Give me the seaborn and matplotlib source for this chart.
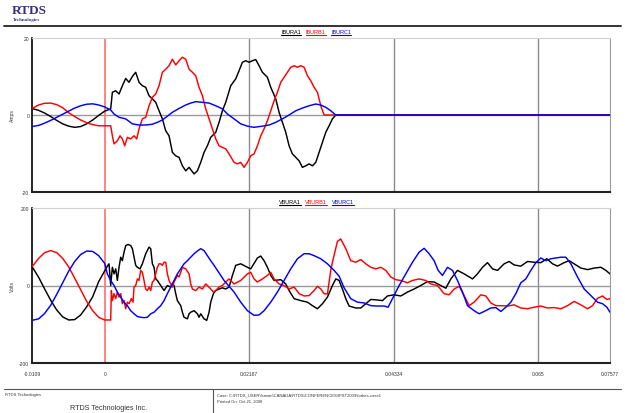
import numpy as np
import pandas as pd
import matplotlib
matplotlib.use("Agg")
import matplotlib.pyplot as plt
import seaborn as sns
from matplotlib.lines import Line2D

sns.set_style("white")
plt.rcParams['font.family'] = ['Liberation Sans', 'DejaVu Sans']

# ---------------------------------------------------------------- currents (A)
# time stamps in milliseconds
ia_t = [-10.9, -9.9, -9.0, -8.1, -7.2, -6.3, -5.4, -4.5, -3.6, -2.7, -1.8, -0.9, 0.0, 0.9,
        1.15, 1.65, 2.15, 2.65, 3.15, 3.65, 4.15, 4.65, 5.15, 5.65, 6.15, 6.65, 7.15, 7.65,
        8.15, 8.65, 9.15, 9.65, 10.15, 10.65, 11.15, 11.65, 12.15, 12.65, 13.4, 13.9, 14.4,
        14.9, 15.4, 15.9, 16.65, 17.15, 17.65, 18.15, 18.9, 19.65, 20.15, 20.65, 21.15, 21.65,
        22.15, 22.65, 23.15, 23.65, 24.4, 24.9, 25.65, 26.15, 26.65, 27.15, 27.65, 28.15,
        28.65, 29.15, 29.65, 30.15, 30.65, 31.15, 31.65, 32.15, 32.65, 33.15, 33.65, 34.15,
        34.65, 75.77]
ia = [1.7, 1.2, 0.5, -0.4, -1.4, -2.3, -2.9, -3.2, -3.0, -2.3, -1.3, -0.1, 1.0, 1.6,
      5.9, 6.3, 5.45, 7.6, 9.5, 8.5, 10.0, 11.1, 8.5, 7.6, 7.2, 5.0, 4.2, 3.3,
      1.1, -1.0, -4.1, -5.4, -9.7, -10.6, -11.0, -13.2, -14.5, -13.6, -15.3, -14.5, -12.3,
      -9.7, -8.0, -5.8, -4.5, -1.9, 1.1, 3.3, 7.6, 9.4, 11.5, 13.7, 14.1, 13.7,
      14.1, 14.4, 12.8, 11.1, 9.8, 7.2, 4.2, 0.7, -1.9, -4.5, -8.0, -10.1,
      -11.0, -11.9, -13.6, -13.2, -12.7, -13.2, -12.3, -9.7, -7.1, -4.5, -2.8, -1.0,
      0.0, 0.0]

ib_t = [-10.9, -9.9, -9.0, -8.1, -7.2, -6.3, -5.4, -4.5, -3.6, -2.7, -1.8, -0.9, 0.0, 0.9,
        1.15, 1.4, 1.9, 2.3, 2.65, 3.0, 3.4, 3.9, 4.4, 4.8, 5.15, 5.65, 6.15, 6.65, 7.15,
        7.65, 8.15, 8.65, 9.15, 9.65, 10.15, 10.65, 11.15, 11.65, 12.15, 12.65, 13.15,
        13.65, 14.15, 14.65, 15.15, 15.65, 16.15, 16.65, 17.15, 17.65, 18.15, 18.65, 19.4,
        19.9, 20.4, 20.9, 21.4, 21.9, 22.4, 22.9, 23.4, 23.9, 24.4, 24.9, 25.4, 25.9, 26.4,
        26.9, 27.4, 27.9, 28.4, 28.9, 29.4, 29.9, 30.4, 30.9, 31.4, 31.9, 32.4, 32.9, 75.77]
ib = [1.7, 2.6, 3.05, 3.1, 2.7, 1.9, 0.6, -0.4, -1.3, -2.0, -2.5, -2.8, -2.8, -2.8,
      -5.4, -7.5, -6.7, -5.4, -6.2, -8.0, -5.8, -6.2, -5.4, -6.2, -3.6, -1.0, -0.6, 2.4, 4.6,
      5.45, 7.6, 11.1, 11.9, 12.8, 14.5, 13.0, 14.1, 15.0, 14.5, 11.9, 11.1,
      10.2, 7.2, 5.0, 1.6, -1.0, -3.6, -6.2, -8.0, -8.4, -8.8, -10.1, -12.3,
      -12.7, -12.3, -13.6, -12.3, -10.6, -10.1, -8.0, -5.4, -3.6, -1.5, 1.1, 3.7, 5.9, 8.5,
      9.8, 11.1, 12.4, 12.8, 12.4, 12.8, 12.4, 10.2, 8.9, 7.2, 5.9, 2.4, 0.0, 0.0]

ic_t = [-10.9, -9.9, -9.0, -8.1, -7.2, -6.3, -5.4, -4.5, -3.6, -2.7, -1.8, -0.9, 0.0, 0.9,
        1.4, 2.15, 3.15, 4.15, 5.15, 6.15, 7.15, 7.9, 8.65, 9.4, 10.15, 11.15, 12.15, 12.9,
        13.65, 14.65, 15.65, 16.65, 17.65, 18.4, 19.4, 20.4, 21.4, 22.4, 23.65, 24.65, 25.65,
        26.65, 27.65, 28.65, 29.65, 30.65, 31.65, 32.4, 33.15, 33.9, 34.65, 75.77]
ic = [-3.0, -2.7, -2.1, -1.4, -0.6, 0.2, 1.0, 1.8, 2.4, 2.8, 2.9, 2.6, 2.1, 1.3,
      0.26, -0.6, -1.0, -2.3, -2.6, -2.6, -2.4, -1.9, -1.3, -0.3, 0.7, 1.7, 2.6, 3.1,
      3.45, 3.3, 3.1, 2.4, 1.6, 0.26, -1.0, -2.3, -2.9, -3.2, -2.9, -2.6, -1.9,
      -1.0, 0.0, 1.1, 1.8, 2.4, 2.85, 2.6, 2.0, 1.1, 0.0, 0.0]

# ---------------------------------------------------------------- voltages (V)
va_t = [-10.9, -9.9, -9.0, -8.1, -7.2, -6.3, -5.4, -4.5, -3.6, -2.7, -1.8, -0.9, 0.0, 0.4,
        0.65, 0.9, 1.15, 1.4, 1.65, 1.9, 2.15, 2.4, 2.65, 2.9, 3.15, 3.5, 3.9, 4.15, 4.4,
        4.65, 4.9, 5.3, 5.65, 6.15, 6.65, 6.9, 7.15, 7.4, 7.65, 7.9, 8.4, 8.9, 9.4, 9.9,
        10.15, 10.4, 10.65, 10.9, 11.4, 11.65, 11.9, 12.4, 12.65, 12.9, 13.4, 13.9, 14.15,
        14.4, 14.9, 15.3, 15.65, 15.9, 16.3, 16.65, 17.15, 17.65, 18.15, 18.65, 19.15, 19.65,
        20.4, 21.4, 21.9, 22.9, 23.4, 23.9, 24.4, 24.9, 25.4, 26.4, 27.15, 27.65, 28.4, 29.4,
        30.4, 31.15, 31.9, 32.65, 33.4, 34.15, 34.65, 35.15, 35.65, 36.15, 36.65, 37.65,
        38.4, 39.15, 39.9, 40.65, 41.65, 42.4, 43.4, 44.4, 45.4, 46.4, 47.4, 48.4, 49.4,
        50.4, 51.15, 51.9, 52.9, 53.9, 55.15, 55.9, 56.65, 57.4, 58.15, 58.9, 59.9, 60.65,
        61.4, 62.4, 63.4, 64.4, 65.4, 66.3, 67.15, 67.9, 68.9, 69.65, 70.4, 71.4, 72.4,
        73.4, 74.4, 75.15, 75.77]
va = [49, 21, -9, -38, -63, -81, -89, -88, -76, -55, -29, 10, 38, 50,
      56, 0, 47, 30, 43, 13, 47, 73, 64, 86, 103, 106, 103, 95, 73,
      52, 47, 43, 56, 82, 99, 95, 56, 47, 17, 13, 0, -13, 0, -4,
      4, 0, -21, -39, -52, -69, -82, -86, -73, -69, -65, -73, -82,
      -73, -86, -90, -69, -43, -21, -13, -9, -6, -9, -4, 26, 52,
      56, 47, 43, 71, 76, 64, 47, 26, 13, 15, 4, -13, -34, -39,
      -43, -52, -60, -47, -30, 0, 17, 13, -9, -34, -53, -58,
      -58, -47, -36, -37, -39, -27, -24, -27, -17, -9, 0, 10, 9,
      0, -7, 17, 39, 30, 17, 30, 47, 59, 43, 39, 56, 62,
      53, 50, 62, 60, 59, 69, 56, 50, 59, 64, 56, 45, 41,
      45, 47, 39, 30]

vb_t = [-10.9, -9.9, -9.0, -8.1, -7.2, -6.3, -5.4, -4.5, -3.6, -2.7, -1.8, -0.9, 0.0, 0.9,
        1.0, 1.15, 1.4, 1.65, 1.9, 2.15, 2.4, 2.65, 2.9, 3.15, 3.4, 3.65, 4.0, 4.25, 4.4,
        4.65, 4.9, 5.15, 5.4, 5.65, 5.9, 6.15, 6.4, 6.65, 6.9, 7.15, 7.4, 7.65, 7.9, 8.15,
        8.4, 8.65, 8.9, 9.15, 9.4, 9.65, 9.9, 10.15, 10.4, 10.65, 10.9, 11.15, 11.4, 11.65,
        12.15, 12.65, 12.9, 13.15, 13.65, 14.15, 14.65, 15.15, 15.4, 15.9, 16.3, 16.65,
        17.15, 17.65, 18.15, 18.65, 19.4, 20.4, 21.4, 21.9, 22.4, 22.9, 23.65, 24.4, 24.9,
        25.4, 26.15, 26.9, 27.65, 28.4, 29.15, 29.9, 30.65, 31.4, 31.9, 32.4, 32.9, 33.4,
        33.9, 34.15, 34.9, 35.4, 36.15, 36.9, 37.65, 38.4, 39.15, 39.9, 40.65, 41.4, 42.15,
        42.9, 43.65, 44.4, 45.4, 46.15, 47.15, 48.15, 48.9, 49.9, 50.9, 51.65, 52.4, 53.15,
        53.9, 54.65, 55.4, 56.4, 57.15, 57.9, 58.65, 59.4, 60.4, 61.4, 62.4, 63.4, 64.4,
        65.4, 66.4, 67.4, 68.4, 69.4, 70.4, 71.4, 72.4, 73.15, 73.9, 74.65, 75.3, 75.77]
vb = [48, 70, 85, 90, 85, 70, 48, 19, -11, -41, -65, -82, -89, -89,
      -13, -39, -21, -34, -17, -30, -21, -47, -39, -60, -43, -47, -34, -43, -4,
      0, 17, 13, 39, 34, 13, -9, -13, -4, -13, 9, 13, 30, 47, 56,
      56, 52, 60, 60, 30, 13, 4, -4, 9, 17, 26, 22, 34, 47,
      43, 30, 4, -9, -13, -4, -9, 4, 0, -9, -17, -13,
      -4, 0, 9, 17, 4, 13, 30, 34, 17, 9, 17, 26, 34,
      17, 4, 0, -9, -4, -21, -27, -26, -13, -2, -9, -21, -22,
      40, 60, 114, 120, 95, 64, 60, 67, 56, 47, 43, 47, 39,
      22, 15, 13, 7, 13, 17, 13, 4, 0, -21, -24, -9, -2,
      -26, -52, -43, -24, -27, -45, -52, -52, -53, -50, -58, -60, -56,
      -53, -58, -57, -60, -52, -41, -50, -60, -52, -33, -27, -36, -34]

vc_t = [-10.9, -9.9, -9.0, -8.1, -7.2, -6.3, -5.4, -4.5, -3.6, -2.7, -1.8, -0.9, 0.0, 0.4,
        0.9, 1.4, 1.9, 2.4, 2.9, 3.4, 3.9, 4.4, 4.9, 5.4, 5.9, 6.4, 6.9, 7.4, 7.9, 8.4, 8.9,
        9.4, 9.9, 10.4, 10.9, 11.4, 11.9, 12.4, 12.9, 13.4, 13.9, 14.4, 14.9, 15.4, 15.9,
        16.4, 16.9, 17.4, 17.9, 18.4, 19.4, 20.4, 21.4, 22.4, 23.15, 23.9, 24.9, 25.9, 26.9,
        27.9, 28.9, 29.9, 30.65, 31.4, 32.4, 33.4, 34.4, 35.15, 35.9, 36.9, 37.9, 38.9, 39.9,
        40.9, 41.9, 42.5, 43.15, 44.15, 45.15, 46.15, 47.15, 47.9, 48.65, 49.4, 50.0, 50.65,
        51.4, 52.15, 52.9, 53.65, 54.4, 55.4, 56.15, 56.9, 57.9, 58.65, 59.4, 60.15, 60.9,
        61.65, 62.4, 63.15, 63.9, 64.65, 65.4, 66.15, 66.9, 67.65, 68.4, 69.15, 69.9, 70.9,
        71.9, 72.9, 73.9, 74.65, 75.3, 75.77]
vc = [-90, -86, -72, -51, -23, 7, 37, 62, 80, 89, 88, 77, 57, 30,
      13, 0, -17, -30, -43, -52, -65, -73, -80, -82, -83, -82, -73, -69, -60, -52, -39,
      -21, -4, 13, 30, 43, 56, 64, 73, 82, 89, 95, 90, 77, 64,
      52, 39, 26, 13, 3, -17, -43, -65, -77, -76, -65, -43, -17, 13,
      43, 69, 82, 82, 77, 69, 56, 39, 24, -6, -34, -43, -45, -52,
      -53, -53, -56, -34, 0, 30, 60, 86, 96, 82, 64, 39, 26,
      47, 39, 13, -17, -52, -65, -73, -67, -58, -57, -67, -56, -43,
      -21, 7, 17, 39, 59, 71, 64, 69, 71, 73, 73, 56, 22,
      -9, -26, -43, -47, -56, -69]

x_ticks = [-0.0109, 0.0, 0.02167, 0.04334, 0.065, 0.07577]
x_tick_labels = ["-0.0109", "0", "0.02167", "0.04334", "0.065", "0.07577"]
grid_times = [0.02167, 0.04334, 0.065]
current_names = ["IBURA1", "IBURB1", "IBURC1"]
voltage_names = ["VBURA1", "VBURB1", "VBURC1"]
phase_colors = ["#000000", "#ff0000", "#0000ff"]


def long_frame(pairs, names):
    frames = []
    for (t_ms, vals), name in zip(pairs, names):
        frames.append(pd.DataFrame({"t": np.asarray(t_ms, float) / 1000.0,
                                    "v": np.asarray(vals, float),
                                    "signal": name}))
    return pd.concat(frames, ignore_index=True)


cur_df = long_frame([(ia_t, ia), (ib_t, ib), (ic_t, ic)], current_names)
vol_df = long_frame([(va_t, va), (vb_t, vb), (vc_t, vc)], voltage_names)

W, H = 625, 414
fig = plt.figure(figsize=(W / 100, H / 100), dpi=100)
fig.patch.set_facecolor("white")


def fx(px):
    return px / W


def fy(py):
    return 1 - py / H


ax1 = fig.add_axes([fx(32), fy(193), fx(610) - fx(32), fy(39) - fy(193)])
ax2 = fig.add_axes([fx(32), fy(364), fx(610) - fx(32), fy(209) - fy(364)])

tick_fs = 3.6
for ax, df, names, ylim, yt in [(ax1, cur_df, current_names, 20, [-20, 0, 20]),
                                (ax2, vol_df, voltage_names, 200, [-200, 0, 200])]:
    ax.axhline(0, color="#9a9a9a", lw=1.0, zorder=1)
    for g in grid_times:
        ax.axvline(g, color="#8c8c8c", lw=1.0, zorder=1)
    ax.axvline(0.0, color="#ff7a7a", lw=1.3, zorder=1)
    sns.lineplot(data=df, x="t", y="v", hue="signal", hue_order=names,
                 palette=dict(zip(names, phase_colors)), estimator=None, sort=False,
                 legend=False, ax=ax, linewidth=1.05, zorder=3)
    ax.set_xlim(x_ticks[0], x_ticks[-1])
    ax.set_ylim(-ylim, ylim)
    ax.set_yticks(yt)
    ax.set_yticklabels([str(v) for v in yt])
    ax.set_xlabel("")
    ax.set_ylabel("")
    ax.tick_params(axis="both", length=0, labelsize=tick_fs, colors="#333333", pad=2)
    ax.spines["left"].set_color("#000000")
    ax.spines["left"].set_linewidth(1.2)
    ax.spines["bottom"].set_color("#222222")
    ax.spines["bottom"].set_linewidth(1.5)
    ax.spines["top"].set_color("#d0d0d0")
    ax.spines["top"].set_linewidth(0.8)
    ax.spines["right"].set_color("#9a9a9a")
    ax.spines["right"].set_linewidth(0.8)
    ax.set_facecolor("white")

ax1.set_xticks(x_ticks)
ax1.set_xticklabels([])
ax2.set_xticks(x_ticks)
ax2.set_xticklabels(x_tick_labels)
ax2.tick_params(axis="x", pad=6)

fig.text(fx(12), fy(116), "Amps", rotation=90, ha="center", va="center",
         fontsize=tick_fs, color="#333333")
fig.text(fx(12), fy(287), "Volts", rotation=90, ha="center", va="center",
         fontsize=tick_fs, color="#333333")

# underlined signal names above each panel
renderer = fig.canvas.get_renderer()


def signal_keys(names, x_starts, y):
    for name, x0, col in zip(names, x_starts, phase_colors):
        t = fig.text(fx(x0), fy(y), name, ha="left", va="center", fontsize=4.0,
                     color=col)
        bb = t.get_window_extent(renderer=renderer)
        y_line = fy(y + 3.2)
        fig.add_artist(Line2D([bb.x0 / W, bb.x1 / W], [y_line, y_line], color=col,
                              lw=0.8, transform=fig.transFigure))


signal_keys(current_names, [281, 306, 331], 33)
signal_keys(voltage_names, [279, 305, 332], 203)

# header
fig.text(fx(12), fy(11), "RTDS", ha="left", va="center", fontsize=9.5,
         family=["Liberation Serif", "DejaVu Serif"], weight="bold", color="#34307f")
fig.text(fx(13), fy(19.5), "Technologies", ha="left", va="center", fontsize=3.6,
         family=["Liberation Serif", "DejaVu Serif"], weight="bold", color="#34307f")
fig.add_artist(Line2D([fx(4), fx(621)], [fy(26.7), fy(26.7)], color="#333333", lw=1.4,
                      transform=fig.transFigure))

# footer
fig.add_artist(Line2D([fx(4), fx(621)], [fy(390), fy(390)], color="#555555", lw=0.8,
                      transform=fig.transFigure))
fig.add_artist(Line2D([fx(213), fx(213)], [fy(390), fy(414)], color="#555555", lw=0.8,
                      transform=fig.transFigure))
fig.text(fx(5), fy(395.5), "RTDS Technologies", ha="left", va="center", fontsize=3.0,
         color="#333333")
fig.text(fx(109), fy(408.5), "RTDS Technologies Inc.", ha="center", va="center",
         fontsize=5.2, color="#333333")
fig.text(fx(217), fy(395.5),
         "Case: C:\\RTDS_USER\\fsmain\\CANADA\\RTDS\\CONFERENCES\\IPST2009\\forbes-case1",
         ha="left", va="center", fontsize=3.0, color="#333333")
fig.text(fx(217), fy(401.5), "Printed On: Oct 21, 2008", ha="left", va="center",
         fontsize=3.0, color="#333333")

fig.savefig("out.png", dpi=100, facecolor="white")
